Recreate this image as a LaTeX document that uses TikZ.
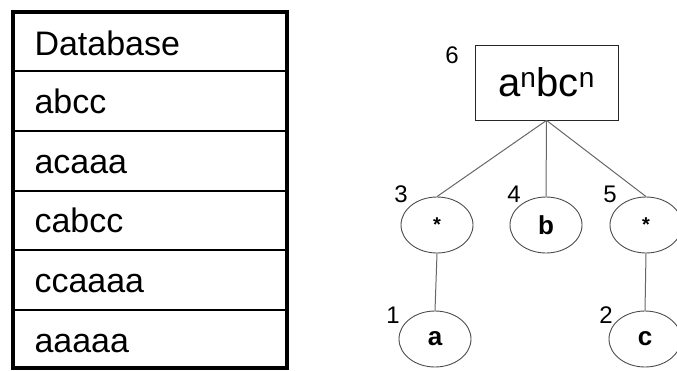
\documentclass[tikz,border=0pt]{standalone}
\usepackage{fontspec}
\setmainfont{Liberation Sans}
\usetikzlibrary{shapes.geometric}
\begin{document}
\begin{tikzpicture}[x=1pt,y=-1pt,
  rowtext/.style={anchor=base west,font=\fontsize{34}{38}\selectfont},
  seq/.style={draw=black!85,line width=0.8pt,minimum width=143pt,minimum height=75pt,inner sep=0pt,font=\fontsize{40}{44}\selectfont},
  elem/.style={ellipse,draw=black!70,line width=0.9pt,minimum width=72pt,minimum height=56pt,inner sep=0pt,font=\bfseries\fontsize{26}{30}\selectfont},
  idx/.style={font=\fontsize{24}{28}\selectfont,inner sep=0pt},
  link/.style={draw=black!60,line width=1pt}]
\useasboundingbox (0,0) rectangle (677,370);
% database table
\foreach \y in {71,131,191,250,310}
  \draw[line width=1.5pt] (13,\y) -- (287,\y);
\draw[line width=3.5pt] (13,12) rectangle (287,368);
\node[rowtext] (r0) at (31,55) {Database};
\node[rowtext] (r1) at (31,113) {abcc};
\node[rowtext] (r2) at (31,173) {acaaa};
\node[rowtext] (r3) at (31,232) {cabcc};
\node[rowtext] (r4) at (31,292) {ccaaaa};
\node[rowtext] (r5) at (31,352) {aaaaa};
% pattern tree
\node[seq] (root) at (546.5,82.5) {a\textsuperscript{n}bc\textsuperscript{n}};
\node[elem] (s1) at (437,225) {\fontsize{20}{22}\selectfont *};
\node[elem] (b) at (546,225) {b};
\node[elem] (s2) at (646,225) {\fontsize{20}{22}\selectfont *};
\node[elem] (a) at (435,339) {a};
\node[elem] (c) at (645,339) {c};
\draw[link] (root.south) -- (s1.north);
\draw[link] (root.south) -- (b.north);
\draw[link] (root.south) -- (s2.north);
\draw[link] (s1.south) -- (a.north);
\draw[link] (s2.south) -- (c.north);
\node[idx] (n6) at (452,55) {6};
\node[idx] (n3) at (401,194) {3};
\node[idx] (n4) at (514,194) {4};
\node[idx] (n5) at (610,194) {5};
\node[idx] (n1) at (393,315) {1};
\node[idx] (n2) at (606,315) {2};
\end{tikzpicture}
\end{document}
